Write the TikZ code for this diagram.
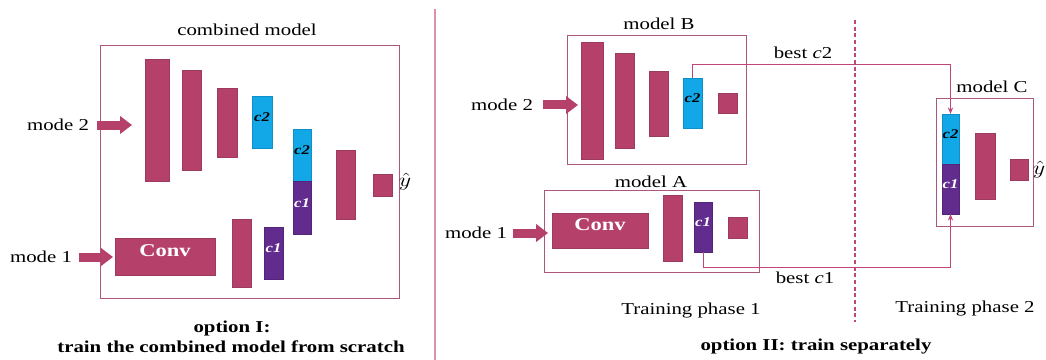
\documentclass[tikz,border=0pt]{standalone}
\usepackage{fontspec}
\setmainfont{Liberation Serif}
\usepackage{graphicx}
\usetikzlibrary{arrows.meta,fit}
\definecolor{layer}{HTML}{B5406A}
\definecolor{layeredge}{HTML}{9C3A60}
\definecolor{codetwo}{HTML}{12A8E8}
\definecolor{codeone}{HTML}{622C8E}
\definecolor{frame}{HTML}{A9587C}
\definecolor{divider}{HTML}{DC8FAE}
\definecolor{phase}{HTML}{C2457A}
\newcommand\wide[1]{\scalebox{1.25}[1]{#1}}
\begin{document}
\begin{tikzpicture}[x=0.75pt,y=-0.75pt,
  every node/.style={font=\fontsize{12.5}{14}\selectfont, inner sep=0pt, outer sep=0pt},
  blk/.style={fit={#1}, inner sep=0pt, line width=0.6pt},
  layerbox/.style={blk={#1}, fill=layer, draw=layeredge},
  twobox/.style={blk={#1}, fill=codetwo, draw=codetwo!85!black, text=black,
    font=\fontsize{10}{11}\selectfont\bfseries\itshape},
  onebox/.style={blk={#1}, fill=codeone, draw=codeone!85!black, text=white,
    font=\fontsize{10}{11}\selectfont\bfseries\itshape},
  convbox/.style={layerbox={#1}, text=white, font=\fontsize{13.5}{15}\selectfont\bfseries},
  modelframe/.style={blk={#1}, draw=frame, line width=0.75pt},
  bigarrow/.style={draw=layer, line width=6.75pt,
    -{Triangle[length=9pt,width=13pt]}},
  bestline/.style={draw=phase, line width=0.7pt,
    -{Stealth[length=5pt,width=4pt]}},
  heading/.style={font=\fontsize{12.5}{14}\selectfont\bfseries},
  output/.style={font=\fontsize{14}{16}\selectfont}
]
\useasboundingbox (0,0) rectangle (1046,360);

% ---------- option I: one combined model ----------
\node (titleL) at (247,30) {\wide{combined model}};
\node[modelframe={(100,46) (399,298)}] (boxL) {};

\node (m2L) at (58,125) {\wide{mode 2}};
\node[layerbox={(145,59) (169,181)}] (L1) {};
\node[layerbox={(182,70) (201,170)}] (L2) {};
\node[layerbox={(217,88) (237,157)}] (L3) {};
\node[twobox={(252,96) (272,148)}] (Lc2a) {\wide{c2}};
\node[twobox={(293,129) (311,181)}] (Lc2b) {\wide{c2}};
\node[onebox={(293,181) (311,234)}] (Lc1b) {\wide{c1}};
\node[layerbox={(336,150) (355,219)}] (L4) {};
\node[layerbox={(373,174) (392,196)}] (L5) {};
\node[output] (yL) at (405,182) {\wide{$\hat{y}$}};

\node (m1L) at (41,257) {\wide{mode 1}};
\node[convbox={(115,238) (215,275)}] (convL) {\wide{Conv}};
\node[layerbox={(232,219) (251,287)}] (L6) {};
\node[onebox={(264,227) (283,279)}] (Lc1a) {\wide{c1}};

\draw[bigarrow, shorten <=6.4pt, shorten >=9.75pt] (m2L.east) -- (m2L.east -| L1.west);
\draw[bigarrow, shorten <=5pt, shorten >=1.5pt] (m1L.east) -- (m1L.east -| convL.west);

\node[heading] (optI) at (232,328) {\wide{option I:}};
\node[heading] (optIb) at (231,347) {\wide{train the combined model from scratch}};

% separator between the two options
\draw[divider, line width=1.2pt] (435,9) -- (435,360);

% ---------- option II: models trained separately ----------
\node (titleB) at (659,24) {\wide{model B}};
\node[modelframe={(567,36) (746,164)}] (boxB) {};
\node (m2R) at (502,105) {\wide{mode 2}};
\node[layerbox={(581,42) (603,159)}] (B1) {};
\node[layerbox={(615,53) (634,148)}] (B2) {};
\node[layerbox={(649,71) (668,136)}] (B3) {};
\node[twobox={(683,78) (702,128)}] (Bc2) {\wide{c2}};
\node[layerbox={(718,93) (737,113)}] (B4) {};
\draw[bigarrow, shorten <=7.5pt, shorten >=2.25pt] (m2R.east) -- (m2R.east -| B1.west);

\node (titleA) at (651,182) {\wide{model A}};
\node[modelframe={(544,190) (759,272)}] (boxA) {};
\node (m1R) at (476,233) {\wide{mode 1}};
\node[convbox={(552,213) (648,248)}] (convR) {\wide{Conv}};
\node[layerbox={(663,195) (682,261)}] (A1) {};
\node[onebox={(694,202) (712,252)}] (Ac1) {\wide{c1}};
\node[layerbox={(728,217) (747,238)}] (A2) {};
\draw[bigarrow, shorten <=4.5pt, shorten >=3pt] (m1R.east) -- (m1R.east -| convR.west);

\node (phase1) at (691,311) {\wide{Training phase 1}};

% boundary between the two training phases
\draw[phase, line width=1.5pt, dash pattern=on 3pt off 2pt] (855,20) -- (855,322);

\node (titleC) at (992,87) {\wide{model C}};
\node[modelframe={(936,99) (1033,226)}] (boxC) {};
\node[twobox={(942,114) (959,164)}] (Cc2) {\wide{c2}};
\node[onebox={(942,164) (959,214)}] (Cc1) {\wide{c1}};
\node[layerbox={(975,133) (995,199)}] (C1) {};
\node[layerbox={(1010,159) (1028,180)}] (C2) {};
\node[output] (yR) at (1039,170) {\wide{$\hat{y}$}};
\node (phase2) at (965,309) {\wide{Training phase 2}};

% transfer of the best encoders into model C
\draw[bestline] (Bc2.north) -- ++(0,-14) -| (Cc2.north);
\draw[bestline] (Ac1.south) -- ++(0,15) -| (Cc1.south);
\node (best2) at (803,53) {\wide{best \textit{c}2}};
\node (best1) at (805,278) {\wide{best \textit{c}1}};

\node[heading] (optII) at (816,347) {\wide{option II: train separately}};
\end{tikzpicture}
\end{document}
